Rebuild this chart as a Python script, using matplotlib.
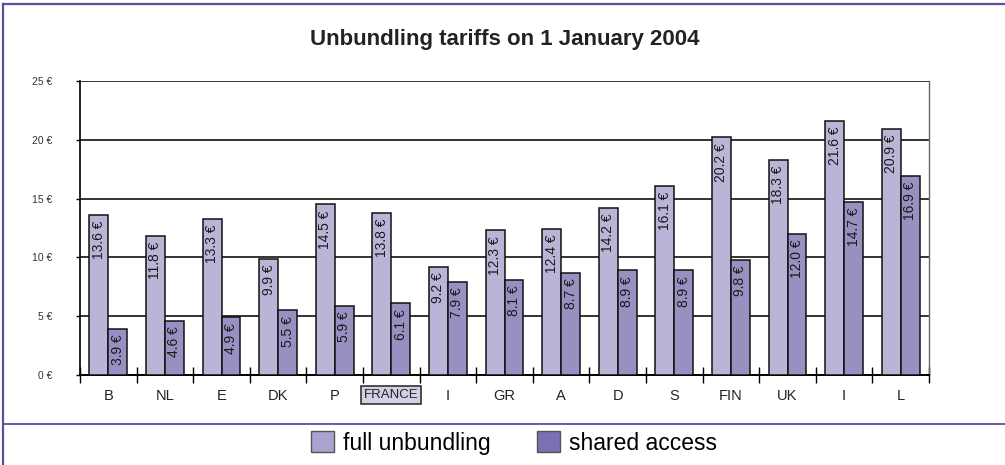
import matplotlib
matplotlib.use("Agg")
import matplotlib.pyplot as plt
import numpy as np
from matplotlib.lines import Line2D
from matplotlib.patches import Patch

plt.rcParams['font.family'] = ['Liberation Sans', 'DejaVu Sans']

# data
countries = ["B", "NL", "E", "DK", "P", "FRANCE", "I", "GR", "A", "D", "S", "FIN", "UK", "I", "L"]
full_unbundling = [13.6, 11.8, 13.3, 9.9, 14.5, 13.8, 9.2, 12.3, 12.4, 14.2, 16.1, 20.2, 18.3, 21.6, 20.9]
shared_access = [3.9, 4.6, 4.9, 5.5, 5.9, 6.1, 7.9, 8.1, 8.7, 8.9, 8.9, 9.8, 12.0, 14.7, 16.9]
y_ticks = [0, 5, 10, 15, 20, 25]

c_full = "#b9b5d6"
c_shared = "#9791c1"
c_frame = "#5a509e"

W, H = 1005, 465
fig = plt.figure(figsize=(W / 100, H / 100), dpi=100)

# frame lines around the chart
fig.add_artist(Line2D([3 / W, 3 / W], [0, 1 - 4 / H], color=c_frame, lw=1.6))
fig.add_artist(Line2D([3 / W, 1], [1 - 4 / H, 1 - 4 / H], color=c_frame, lw=1.6))
fig.add_artist(Line2D([3 / W, 1], [1 - 424 / H, 1 - 424 / H], color=c_frame, lw=1.3))

fig.text(505 / W, 1 - 40 / H, "Unbundling tariffs on 1 January 2004",
         ha="center", va="center", fontsize=16, fontweight="bold", color="#222222")

ax = fig.add_axes([80 / W, 1 - 375 / H, 849 / W, 294 / H])

x = np.arange(len(countries))
bw = 0.335
b1 = ax.bar(x - bw / 2, full_unbundling, bw, color=c_full, edgecolor="#111111", linewidth=1.1, zorder=3)
b2 = ax.bar(x + bw / 2, shared_access, bw, color=c_shared, edgecolor="#111111", linewidth=1.1, zorder=3)

for bars, vals in ((b1, full_unbundling), (b2, shared_access)):
    for rect, v in zip(bars, vals):
        ax.annotate(f"{v:.1f} €", (rect.get_x() + rect.get_width() / 2, v),
                    xytext=(0, -4), textcoords="offset points",
                    rotation=90, ha="center", va="top", fontsize=10,
                    color="#1a1a1a", zorder=4)

ax.set_xlim(-0.5, len(countries) - 0.5)
ax.set_ylim(0, 25)
ax.set_yticks(y_ticks)
ax.set_yticklabels([f"{t} €" for t in y_ticks], fontsize=7.5, color="#333333")
ax.tick_params(axis="y", length=3, width=1, pad=17)
ax.yaxis.grid(True, color="#111111", linewidth=1.2, zorder=1)

ax.set_xticks(x)
ax.set_xticklabels(countries, fontsize=10.5, color="#222222")
ax.set_xticks(np.arange(len(countries) + 1) - 0.5, minor=True)
ax.tick_params(axis="x", which="major", length=0, pad=10)
ax.tick_params(axis="x", which="minor", direction="inout", length=11, width=1.0)

fr = ax.get_xticklabels()[countries.index("FRANCE")]
fr.set_fontsize(9.5)
fr.set_bbox(dict(facecolor="#d2cfe6", edgecolor="#333333", boxstyle="square,pad=0.2", linewidth=1.2))

ax.spines["top"].set_visible(False)
ax.spines["left"].set_linewidth(1.2)
ax.spines["bottom"].set_linewidth(1.4)
ax.spines["right"].set_color("#666666")
ax.spines["right"].set_linewidth(1)

handles = [Patch(facecolor="#a8a3d0", edgecolor="#555555", label="full unbundling"),
           Patch(facecolor="#7a70b4", edgecolor="#555555", label="shared access")]
fig.legend(handles=handles, loc="center", bbox_to_anchor=(514 / W, 1 - 443 / H), ncol=2,
           frameon=False, fontsize=16.5, handlelength=1.0, handleheight=1.0,
           handletextpad=0.4, columnspacing=2.0)

fig.savefig("out.png", dpi=100)
